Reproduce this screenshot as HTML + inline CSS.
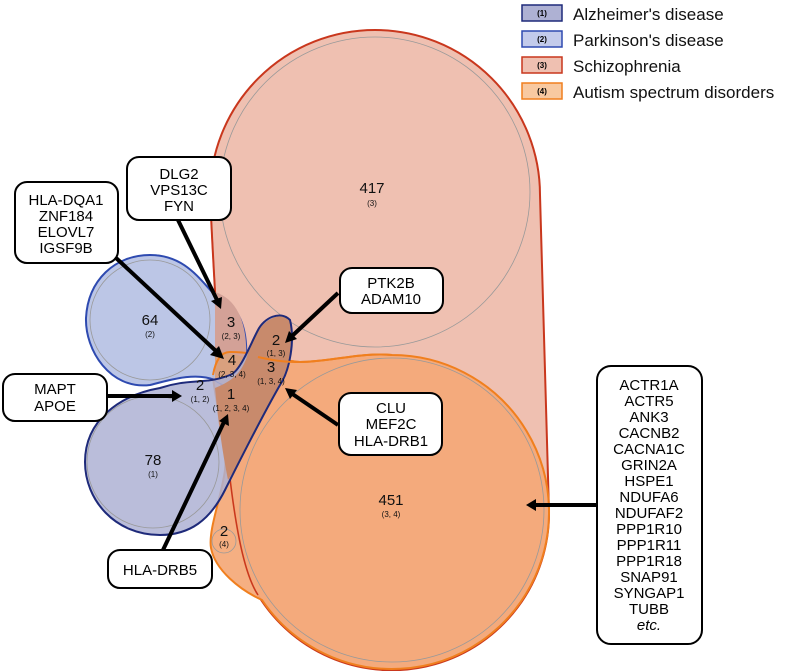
<!DOCTYPE html>
<html><head><style>body{margin:0;background:#fff}svg{display:block;font-family:"Liberation Sans",sans-serif}</style></head><body>
<svg width="800" height="671" viewBox="0 0 800 671">
<!-- Schizophrenia -->
<path d="M210,195 A165,165 0 0 1 540,195 L549,512 A157,157 0 0 1 258,595 C235,560 222,450 210,195 Z" fill="#efc0b1" stroke="#c9371d" stroke-width="2"/>
<circle cx="375" cy="192" r="155" fill="none" stroke="#999" stroke-width="0.8"/>
<!-- Autism -->
<path d="M213,375 C216,358 222,352 230,352 C260,352 285,362 300,362 C330,362 360,352 392,355 A157,157 0 1 1 262,600 C240,590 215,570 211,548 C208,530 222,495 225,470 C228,440 214,400 213,375 Z" fill="#f4a877" fill-opacity="0.92" stroke="#f07f1e" stroke-width="2"/>
<circle cx="392" cy="510" r="152" fill="none" stroke="#999" stroke-width="0.8"/>
<circle cx="224" cy="541" r="12" fill="none" stroke="#999" stroke-width="0.8"/>
<path d="M258,595 C235,560 222,450 210,195" fill="none" stroke="#c9371d" stroke-width="1.5"/>
<!-- Parkinson -->
<path d="M150,255 C185,255 200,280 215,295 C240,305 250,330 245,370 C240,385 225,388 215,380 C195,372 170,380 150,385 C110,390 85,350 86,318 C88,280 115,255 150,255 Z" fill="#b5c0e3" fill-opacity="0.9" stroke="#2e4ab0" stroke-width="2"/>
<circle cx="150" cy="320" r="60" fill="none" stroke="#999" stroke-width="0.8"/>
<path d="M215,292 C240,300 250,330 245,372 C238,385 225,388 215,380 Z" fill="#d3a197" stroke="none"/>
<path d="M215,352 C230,352 240,356 247,358 L245,372 C238,385 225,388 215,380 Z" fill="#d9a07e" stroke="none"/>
<path d="M213,375 C216,358 222,352 230,352 C260,352 285,362 300,362" fill="none" stroke="#f07f1e" stroke-width="2"/>
<!-- Alzheimer -->
<path d="M160,388 C190,378 205,385 230,375 C240,372 250,345 258,330 C264,318 280,310 290,320 C295,340 290,370 280,385 C260,420 240,460 225,490 C210,520 190,535 160,535 C115,535 85,500 85,462 C85,420 120,395 160,388 Z" fill="#aeb1d3" fill-opacity="0.85"/>
<path d="M215,388 C235,380 245,370 250,345 C260,320 280,310 290,320 C295,340 290,370 280,385 C262,418 245,455 228,480 C222,450 218,420 215,388 Z" fill="#c88a6c" stroke="none"/>
<path d="M160,388 C190,378 205,385 230,375 C240,372 250,345 258,330 C264,318 280,310 290,320 C295,340 290,370 280,385 C260,420 240,460 225,490 C210,520 190,535 160,535 C115,535 85,500 85,462 C85,420 120,395 160,388 Z" fill="none" stroke="#1e2a7a" stroke-width="2"/>
<circle cx="153" cy="462" r="66" fill="none" stroke="#999" stroke-width="0.8"/>
<path d="M258,357 C280,362 290,362 300,362 C330,362 360,352 392,355" fill="none" stroke="#f07f1e" stroke-width="2"/>
<!-- labels -->
<g text-anchor="middle" fill="#111">
<text x="372" y="193" font-size="15">417</text><text x="372" y="206" font-size="8">(3)</text>
<text x="150" y="325" font-size="15">64</text><text x="150" y="337" font-size="8">(2)</text>
<text x="153" y="465" font-size="15">78</text><text x="153" y="477" font-size="8">(1)</text>
<text x="391" y="505" font-size="15">451</text><text x="391" y="517" font-size="8">(3, 4)</text>
<text x="231" y="327" font-size="15">3</text><text x="231" y="339" font-size="8">(2, 3)</text>
<text x="232" y="365" font-size="15">4</text><text x="232" y="377" font-size="8">(2, 3, 4)</text>
<text x="200" y="390" font-size="15">2</text><text x="200" y="402" font-size="8">(1, 2)</text>
<text x="231" y="399" font-size="15">1</text><text x="231" y="411" font-size="8">(1, 2, 3, 4)</text>
<text x="276" y="345" font-size="15">2</text><text x="276" y="356" font-size="8">(1, 3)</text>
<text x="271" y="372" font-size="15">3</text><text x="271" y="384" font-size="8">(1, 3, 4)</text>
<text x="224" y="536" font-size="15">2</text><text x="224" y="547" font-size="8">(4)</text>
</g>
<!-- arrows -->
<g stroke="#000" stroke-width="4">
<line x1="115" y1="257" x2="217" y2="352"/><line x1="178" y1="220" x2="217" y2="300"/>
<line x1="338" y1="293" x2="291" y2="337"/><line x1="107" y1="396" x2="173" y2="396"/>
<line x1="338" y1="425" x2="291" y2="393"/><line x1="163" y1="550" x2="224" y2="422"/>
<line x1="597" y1="505" x2="534" y2="505"/>
</g>
<g fill="#000">
<polygon points="224,359 210,355 219,346"/><polygon points="221,309 211,301 222,297"/>
<polygon points="285,343 289,331 297,339"/><polygon points="182,396 172,390 172,402"/>
<polygon points="285,388 297,390 290,399"/><polygon points="228,414 229,426 219,421"/>
<polygon points="526,505 536,499 536,511"/>
</g>
<!-- boxes -->
<g fill="#fff" stroke="#000" stroke-width="2">
<rect x="15" y="182" width="103" height="81" rx="12"/><rect x="127" y="157" width="104" height="63" rx="12"/>
<rect x="340" y="268" width="103" height="45" rx="12"/><rect x="3" y="374" width="104" height="47" rx="12"/>
<rect x="339" y="393" width="103" height="62" rx="12"/><rect x="108" y="550" width="104" height="38" rx="12"/>
<rect x="597" y="366" width="105" height="278" rx="14"/>
</g>
<g text-anchor="middle" font-size="15" fill="#000">
<text x="66" y="205">HLA-DQA1</text><text x="66" y="221">ZNF184</text><text x="66" y="237">ELOVL7</text><text x="66" y="253">IGSF9B</text>
<text x="179" y="179">DLG2</text><text x="179" y="195">VPS13C</text><text x="179" y="211">FYN</text>
<text x="391" y="288">PTK2B</text><text x="391" y="304">ADAM10</text>
<text x="55" y="394">MAPT</text><text x="55" y="411">APOE</text>
<text x="391" y="413">CLU</text><text x="391" y="429">MEF2C</text><text x="391" y="446">HLA-DRB1</text>
<text x="160" y="575">HLA-DRB5</text>
<text x="649" y="390">ACTR1A</text><text x="649" y="406">ACTR5</text><text x="649" y="422">ANK3</text><text x="649" y="438">CACNB2</text><text x="649" y="454">CACNA1C</text><text x="649" y="470">GRIN2A</text><text x="649" y="486">HSPE1</text><text x="649" y="502">NDUFA6</text><text x="649" y="518">NDUFAF2</text><text x="649" y="534">PPP1R10</text><text x="649" y="550">PPP1R11</text><text x="649" y="566">PPP1R18</text><text x="649" y="582">SNAP91</text><text x="649" y="598">SYNGAP1</text><text x="649" y="614">TUBB</text><text x="649" y="630" font-style="italic">etc.</text>
</g>
<!-- legend -->
<g stroke-width="1.5">
<rect x="522" y="5" width="40" height="16" fill="#aeb1d3" stroke="#1e2a7a"/>
<rect x="522" y="31" width="40" height="16" fill="#c3cbeb" stroke="#2e4ab0"/>
<rect x="522" y="57" width="40" height="16" fill="#efc0b1" stroke="#c9371d"/>
<rect x="522" y="83" width="40" height="16" fill="#f8c9a1" stroke="#f07f1e"/>
</g>
<g font-size="8" font-weight="bold" text-anchor="middle"><text x="542" y="16">(1)</text><text x="542" y="42">(2)</text><text x="542" y="68">(3)</text><text x="542" y="94">(4)</text></g>
<g font-size="17" fill="#111"><text x="573" y="20">Alzheimer's disease</text><text x="573" y="46">Parkinson's disease</text><text x="573" y="72">Schizophrenia</text><text x="573" y="98">Autism spectrum disorders</text></g>
</svg>
</body></html>
